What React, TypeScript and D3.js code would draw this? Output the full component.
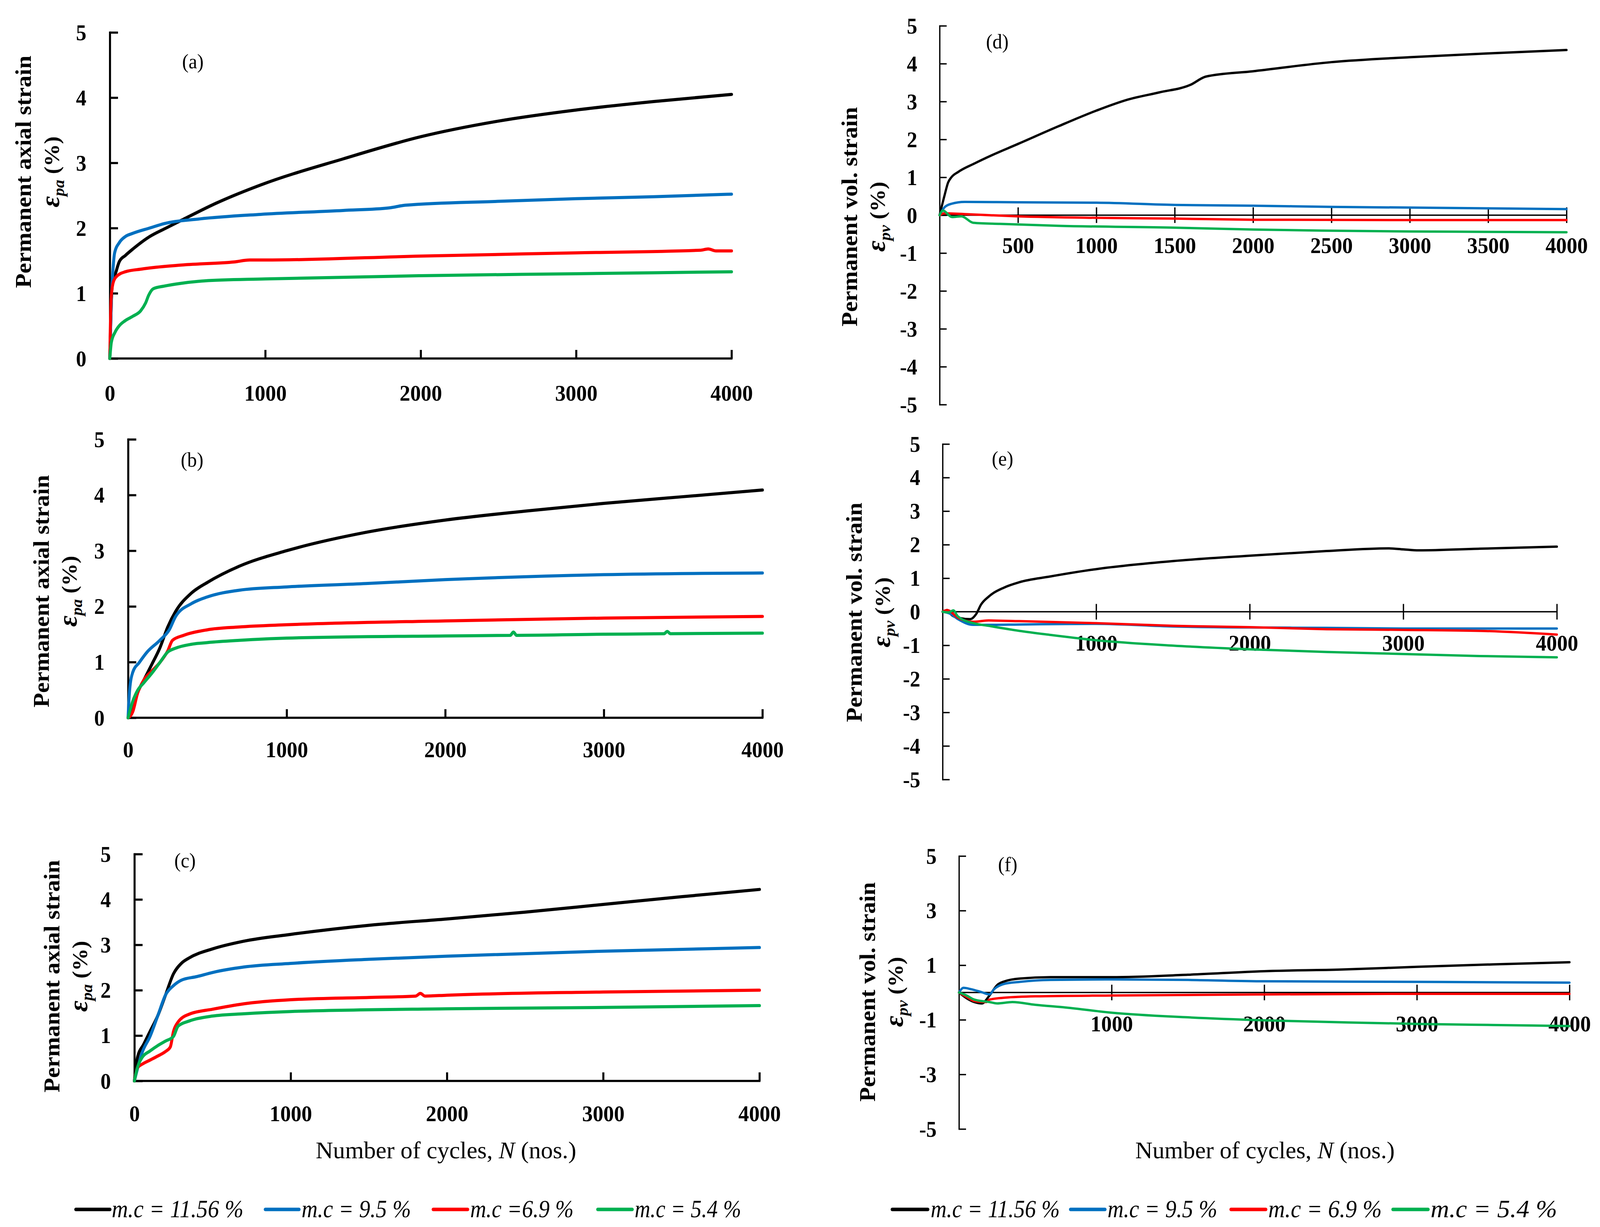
import React, { useRef, useEffect } from 'react';
import * as d3 from 'd3';

type Pt = [number, number];

// ---------- data (N cycles, strain %) ----------
// (a) permanent axial strain
const aMc1156: Pt[] = [[0, 0], [15, 1.1], [40, 1.33], [62, 1.49], [100, 1.58], [149, 1.68], [250, 1.86], [362, 2.0], [470, 2.13], [683, 2.38], [970, 2.66], [1500, 3.06], [2000, 3.4], [2500, 3.64], [3000, 3.81], [3500, 3.94], [4000, 4.05]];
const aMc95: Pt[] = [[0, 0], [10, 0.9], [20, 1.35], [31, 1.62], [62, 1.78], [100, 1.87], [149, 1.92], [256, 2.0], [352, 2.07], [577, 2.14], [970, 2.21], [1500, 2.27], [1800, 2.31], [1900, 2.35], [2500, 2.41], [3000, 2.45], [3500, 2.48], [4000, 2.52]];
const aMc69: Pt[] = [[0, 0], [8, 0.9], [20, 1.15], [40, 1.25], [100, 1.33], [200, 1.37], [300, 1.4], [500, 1.44], [800, 1.48], [900, 1.51], [1000, 1.51], [2000, 1.57], [3000, 1.62], [3800, 1.66], [3850, 1.68], [3900, 1.65], [4000, 1.65]];
const aMc54: Pt[] = [[0, 0], [10, 0.25], [33, 0.4], [60, 0.5], [99, 0.58], [150, 0.65], [198, 0.73], [230, 0.85], [250, 0.97], [280, 1.07], [350, 1.11], [450, 1.15], [609, 1.19], [1000, 1.22], [2000, 1.27], [3000, 1.3], [4000, 1.33]];

// (b) permanent axial strain
const bMc1156: Pt[] = [[0, 0], [25, 0.2], [50, 0.39], [100, 0.68], [150, 0.96], [200, 1.25], [250, 1.63], [300, 1.91], [400, 2.24], [500, 2.43], [700, 2.72], [1000, 3.0], [1500, 3.33], [2000, 3.55], [2500, 3.71], [3000, 3.85], [3500, 3.97], [4000, 4.09]];
const bMc95: Pt[] = [[0, 0], [10, 0.5], [30, 0.82], [70, 0.99], [120, 1.18], [200, 1.39], [260, 1.58], [300, 1.82], [400, 2.05], [500, 2.17], [700, 2.29], [1000, 2.35], [1500, 2.41], [2000, 2.48], [3000, 2.57], [4000, 2.6]];
const bMc69: Pt[] = [[0, 0], [30, 0.11], [60, 0.44], [100, 0.68], [150, 0.84], [200, 0.99], [250, 1.2], [280, 1.39], [350, 1.48], [500, 1.58], [700, 1.63], [1000, 1.67], [2000, 1.74], [3000, 1.79], [4000, 1.82]];
const bMc54: Pt[] = [[0, 0], [30, 0.3], [60, 0.49], [100, 0.63], [150, 0.8], [200, 0.99], [250, 1.18], [300, 1.25], [400, 1.32], [500, 1.35], [700, 1.39], [1000, 1.43], [2000, 1.47], [2410, 1.48], [2430, 1.54], [2450, 1.48], [3000, 1.5], [3380, 1.51], [3400, 1.55], [3420, 1.51], [4000, 1.52]];

// (c) permanent axial strain
const cMc1156: Pt[] = [[0, 0], [20, 0.52], [60, 0.81], [100, 1.09], [150, 1.44], [200, 1.9], [250, 2.36], [300, 2.59], [350, 2.71], [500, 2.91], [700, 3.08], [1000, 3.23], [1500, 3.43], [2000, 3.57], [2500, 3.72], [3000, 3.89], [3500, 4.06], [4000, 4.22]];
const cMc95: Pt[] = [[0, 0], [50, 0.63], [100, 0.98], [150, 1.44], [200, 1.9], [250, 2.1], [300, 2.22], [400, 2.3], [500, 2.39], [700, 2.51], [1000, 2.59], [1500, 2.68], [2000, 2.75], [3000, 2.86], [4000, 2.94]];
const cMc69: Pt[] = [[0, 0], [20, 0.29], [50, 0.37], [100, 0.46], [150, 0.55], [200, 0.65], [230, 0.75], [250, 1.09], [280, 1.3], [350, 1.47], [500, 1.58], [700, 1.7], [1000, 1.79], [1500, 1.84], [1800, 1.87], [1830, 1.93], [1860, 1.87], [2000, 1.89], [3000, 1.96], [4000, 2.0]];
const cMc54: Pt[] = [[0, 0], [20, 0.3], [50, 0.52], [100, 0.66], [150, 0.78], [200, 0.88], [250, 0.98], [280, 1.21], [350, 1.32], [500, 1.43], [700, 1.48], [1000, 1.53], [2000, 1.59], [3000, 1.62], [4000, 1.66]];

// (d) permanent volumetric strain
const dMc1156: Pt[] = [[0, 0], [32, 0.53], [54, 0.86], [75, 1.0], [118, 1.14], [225, 1.37], [332, 1.58], [500, 1.88], [760, 2.35], [1000, 2.76], [1200, 3.05], [1400, 3.24], [1600, 3.44], [1700, 3.66], [2000, 3.8], [2500, 4.04], [3000, 4.17], [3500, 4.27], [4000, 4.36]];
const dMc95: Pt[] = [[0, 0], [32, 0.21], [75, 0.3], [160, 0.35], [500, 0.34], [1000, 0.33], [1500, 0.27], [2000, 0.25], [2500, 0.22], [3000, 0.2], [3500, 0.18], [4000, 0.16]];
const dMc69: Pt[] = [[0, 0], [30, 0.05], [200, 0.02], [500, -0.03], [1000, -0.07], [1500, -0.09], [2000, -0.12], [3000, -0.13], [4000, -0.13]];
const dMc54: Pt[] = [[0, 0], [21, 0.12], [80, -0.05], [140, -0.03], [214, -0.2], [385, -0.23], [760, -0.28], [1500, -0.33], [2000, -0.38], [2500, -0.41], [3000, -0.43], [3500, -0.44], [4000, -0.45]];

// (e) permanent volumetric strain
const eMc1156: Pt[] = [[0, 0], [30, 0.05], [60, -0.1], [100, -0.18], [180, -0.22], [220, -0.06], [250, 0.21], [300, 0.45], [400, 0.72], [500, 0.88], [700, 1.05], [1000, 1.27], [1500, 1.51], [2000, 1.67], [2500, 1.81], [2900, 1.89], [3000, 1.86], [3100, 1.83], [3500, 1.88], [4000, 1.94]];
const eMc95: Pt[] = [[0, 0], [50, -0.06], [100, -0.22], [200, -0.39], [300, -0.39], [500, -0.38], [1000, -0.36], [1500, -0.44], [2000, -0.47], [2500, -0.48], [3000, -0.5], [4000, -0.5]];
const eMc69: Pt[] = [[0, 0], [30, 0.05], [100, -0.18], [200, -0.3], [300, -0.26], [500, -0.28], [1000, -0.34], [1500, -0.42], [2000, -0.46], [2500, -0.52], [3000, -0.54], [3500, -0.57], [4000, -0.68]];
const eMc54: Pt[] = [[0, 0], [40, -0.02], [70, 0.04], [100, -0.14], [200, -0.34], [300, -0.42], [500, -0.57], [700, -0.69], [1000, -0.85], [1500, -1.01], [2000, -1.12], [2500, -1.2], [3000, -1.26], [3500, -1.32], [4000, -1.36]];

// (f) permanent volumetric strain
const fMc1156: Pt[] = [[0, 0], [50, -0.21], [100, -0.35], [150, -0.4], [200, -0.11], [250, 0.27], [300, 0.41], [400, 0.51], [600, 0.56], [1000, 0.56], [1500, 0.65], [2000, 0.78], [2500, 0.84], [3000, 0.94], [3500, 1.03], [4000, 1.11]];
const fMc95: Pt[] = [[0, 0], [30, 0.17], [80, 0.12], [150, 0.01], [200, -0.07], [230, 0.12], [300, 0.32], [400, 0.39], [600, 0.46], [1000, 0.48], [1500, 0.46], [2000, 0.41], [3000, 0.39], [4000, 0.36]];
const fMc69: Pt[] = [[0, 0], [50, -0.16], [100, -0.31], [180, -0.35], [200, -0.26], [300, -0.19], [500, -0.14], [1000, -0.11], [2000, -0.07], [3000, -0.05], [4000, -0.05]];
const fMc54: Pt[] = [[0, 0], [50, -0.11], [100, -0.26], [200, -0.35], [250, -0.4], [350, -0.35], [500, -0.45], [700, -0.55], [1000, -0.74], [1500, -0.91], [2000, -1.02], [2500, -1.09], [3000, -1.15], [3500, -1.19], [4000, -1.23]];

const legendLeft = ['m.c = 11.56 %', 'm.c = 9.5 %', 'm.c =6.9 %', 'm.c = 5.4 %'];
const legendRight = ['m.c = 11.56 %', 'm.c = 9.5 %', 'm.c = 6.9 %', 'm.c = 5.4 %'];

const axialYTicks = [0, 1, 2, 3, 4, 5];
const volYTicks = [-5, -4, -3, -2, -1, 0, 1, 2, 3, 4, 5];
const volYTicksF = [-5, -3, -1, 1, 3, 5];
const axialXTicks = [0, 1000, 2000, 3000, 4000];
const volXTicksD = [500, 1000, 1500, 2000, 2500, 3000, 3500, 4000];
const volXTicksEF = [1000, 2000, 3000, 4000];

// ---------- styling / layout ----------
const W = 4298;
const H = 3142;
const COLORS = ['#000000', '#0070C0', '#FF0000', '#00B050'];
const SERIF = '"Liberation Serif", "Times New Roman", Times, serif';

interface Panel {
  tag: string;
  kind: 'axial' | 'vol';
  series: Pt[][];
  x0: number; x1: number; yTop: number; yBot: number;
  yDomain: [number, number];
  yTicks: number[];
  xTicks: number[];
  tagX: number; tagY: number;
  titleX: number; titleY: number;
  xLabelDy: number;
}

const PANELS: Panel[] = [
  { tag: '(a)', kind: 'axial', series: [aMc1156, aMc95, aMc69, aMc54], x0: 295, x1: 1965, yTop: 83, yBot: 918, yDomain: [0, 5], yTicks: axialYTicks, xTicks: axialXTicks, tagX: 518, tagY: 175, titleX: 83, titleY: 440, xLabelDy: 108 },
  { tag: '(b)', kind: 'axial', series: [bMc1156, bMc95, bMc69, bMc54], x0: 344, x1: 2048, yTop: 1125, yBot: 1838, yDomain: [0, 5], yTicks: axialYTicks, xTicks: axialXTicks, tagX: 516, tagY: 1195, titleX: 131, titleY: 1514, xLabelDy: 101 },
  { tag: '(c)', kind: 'axial', series: [cMc1156, cMc95, cMc69, cMc54], x0: 361, x1: 2040, yTop: 2187, yBot: 2768, yDomain: [0, 5], yTicks: axialYTicks, xTicks: axialXTicks, tagX: 497, tagY: 2221, titleX: 159, titleY: 2500, xLabelDy: 103 },
  { tag: '(d)', kind: 'vol', series: [dMc1156, dMc95, dMc69, dMc54], x0: 2524, x1: 4208, yTop: 66, yBot: 1036, yDomain: [-5, 5], yTicks: volYTicks, xTicks: volXTicksD, tagX: 2679, tagY: 124, titleX: 2302, titleY: 555, xLabelDy: 97 },
  { tag: '(e)', kind: 'vol', series: [eMc1156, eMc95, eMc69, eMc54], x0: 2532, x1: 4182, yTop: 1137, yBot: 1996, yDomain: [-5, 5], yTicks: volYTicks, xTicks: volXTicksEF, tagX: 2693, tagY: 1192, titleX: 2315, titleY: 1568, xLabelDy: 100 },
  { tag: '(f)', kind: 'vol', series: [fMc1156, fMc95, fMc69, fMc54], x0: 2576, x1: 4216, yTop: 2192, yBot: 2891, yDomain: [-5, 5], yTicks: volYTicksF, xTicks: volXTicksEF, tagX: 2707, tagY: 2231, titleX: 2350, titleY: 2540, xLabelDy: 100 },
];

// legend slots: [lineX0, lineX1, textX, textLength]
const LEGEND_LEFT_POS = [[204, 295, 300, 354], [713, 803, 810, 294], [1164, 1256, 1263, 278], [1606, 1698, 1705, 286]];
const LEGEND_RIGHT_POS = [[2397, 2492, 2500, 347], [2876, 2968, 2975, 295], [3307, 3400, 3407, 305], [3742, 3836, 3843, 340]];
const LEGEND_Y = 3097;

type Sel = d3.Selection<SVGGElement, unknown, null, undefined>;

function drawPanel(root: Sel, p: Panel) {
  const x = d3.scaleLinear().domain([0, 4000]).range([p.x0, p.x1]);
  const y = d3.scaleLinear().domain(p.yDomain).range([p.yBot, p.yTop]);
  const axial = p.kind === 'axial';
  const axisW = axial ? 5.5 : 3.5;
  const g = root.append('g');

  // y axis
  const ya = g.append('g')
    .attr('transform', `translate(${p.x0},0)`)
    .call(d3.axisLeft(y).tickValues(p.yTicks).tickSizeInner(axial ? -22 : -19).tickSizeOuter(0)
      .tickPadding(axial ? 63 : 60).tickFormat(d => String(d)));
  ya.select('.domain').attr('stroke-width', axisW).attr('stroke-linecap', 'square');
  ya.selectAll('.tick line').attr('stroke-width', axisW);
  ya.selectAll('.tick text')
    .attr('font-family', SERIF).attr('font-size', 56).attr('font-weight', 'bold').attr('fill', '#000')
    .attr('dy', '0.34em');

  // x axis (at the bottom for axial strain, through zero for volumetric strain)
  const xa = g.append('g')
    .attr('transform', `translate(0,${axial ? p.yBot : y(0)})`)
    .call(d3.axisBottom(x).tickValues(p.xTicks).tickSizeInner(axial ? -22 : 20).tickSizeOuter(0)
      .tickFormat(d => String(d)));
  xa.select('.domain').attr('stroke-width', axisW).attr('stroke-linecap', 'square')
    .attr('d', `M${p.x0},0H${p.x1}`);
  xa.selectAll('.tick line').attr('stroke-width', axisW);
  if (!axial) xa.selectAll('.tick line').attr('y1', -20).attr('y2', 20);
  xa.selectAll('.tick text')
    .attr('font-family', SERIF).attr('font-size', 57).attr('font-weight', 'bold').attr('fill', '#000')
    .attr('y', p.xLabelDy).attr('dy', 0);

  // curves
  const line = d3.line<Pt>().x(d => x(d[0])).y(d => y(d[1])).curve(d3.curveMonotoneX);
  p.series.forEach((s, i) => {
    g.append('path').datum(s)
      .attr('d', line)
      .attr('fill', 'none')
      .attr('stroke', COLORS[i])
      .attr('stroke-width', axial ? 8 : 6)
      .attr('stroke-linejoin', 'round')
      .attr('stroke-linecap', 'round');
  });

  // panel tag
  g.append('text')
    .attr('x', p.tagX).attr('y', p.tagY)
    .attr('text-anchor', 'middle')
    .attr('font-family', SERIF).attr('font-size', 52)
    .text(p.tag);

  // y title, two lines, rotated
  g.append('text')
    .attr('transform', `translate(${p.titleX},${p.titleY}) rotate(-90)`)
    .attr('text-anchor', 'middle')
    .attr('font-family', SERIF).attr('font-size', 60).attr('font-weight', 'bold')
    .attr('textLength', axial ? 595 : 562).attr('lengthAdjust', 'spacingAndGlyphs')
    .text(axial ? 'Permanent axial strain' : 'Permanent vol. strain');

  const t2 = g.append('text')
    .attr('transform', `translate(${p.titleX + 75},${p.titleY}) rotate(-90)`)
    .attr('text-anchor', 'middle')
    .attr('font-family', SERIF).attr('font-weight', 'bold');
  t2.append('tspan').attr('font-size', 70).attr('font-style', 'italic').text('\u03b5');
  t2.append('tspan').attr('font-size', 42).attr('font-style', 'italic').attr('dy', 14)
    .text(axial ? 'pa' : 'pv');
  t2.append('tspan').attr('font-size', 58).attr('dy', -14).text('\u00a0(%)');
}

function drawLegend(root: Sel, labels: string[], pos: number[][]) {
  const g = root.append('g');
  labels.forEach((lab, i) => {
    const [lx0, lx1, tx, tl] = pos[i];
    g.append('line')
      .attr('x1', lx0).attr('x2', lx1).attr('y1', LEGEND_Y).attr('y2', LEGEND_Y)
      .attr('stroke', COLORS[i]).attr('stroke-width', 9).attr('stroke-linecap', 'round');
    g.append('text')
      .attr('x', tx).attr('y', LEGEND_Y + 20)
      .attr('font-family', SERIF).attr('font-size', 64).attr('font-style', 'italic')
      .attr('textLength', tl).attr('lengthAdjust', 'spacingAndGlyphs')
      .text(lab);
  });
}

function drawXTitle(root: Sel, cx: number, baseline: number, len: number) {
  const t = root.append('text')
    .attr('x', cx).attr('y', baseline)
    .attr('text-anchor', 'middle')
    .attr('font-family', SERIF).attr('font-size', 62)
    .attr('textLength', len).attr('lengthAdjust', 'spacingAndGlyphs');
  t.append('tspan').text('Number of cycles, ');
  t.append('tspan').attr('font-style', 'italic').text('N');
  t.append('tspan').text(' (nos.)');
}

export default function App() {
  const svgRef = useRef<SVGSVGElement>(null);

  useEffect(() => {
    document.body.style.margin = '0';
    document.body.style.overflow = 'hidden';
    const el = svgRef.current;
    if (!el) return;
    const svg = d3.select(el);
    svg.selectAll('*').remove();
    svg.append('rect').attr('width', W).attr('height', H).attr('fill', '#fff');
    const root = svg.append('g') as unknown as Sel;

    PANELS.forEach(p => drawPanel(root, p));
    drawXTitle(root, 1198, 2966, 700);
    drawXTitle(root, 3398, 2966, 697);
    drawLegend(root, legendLeft, LEGEND_LEFT_POS);
    drawLegend(root, legendRight, LEGEND_RIGHT_POS);
  }, []);

  // fill whatever viewport we get, keeping the 4298x3142 drawing coordinates
  return (
    <svg
      ref={svgRef}
      viewBox={`0 0 ${W} ${H}`}
      preserveAspectRatio="none"
      style={{ position: 'fixed', left: 0, top: 0, width: '100vw', height: '100vh', display: 'block', background: '#fff' }}
    />
  );
}
